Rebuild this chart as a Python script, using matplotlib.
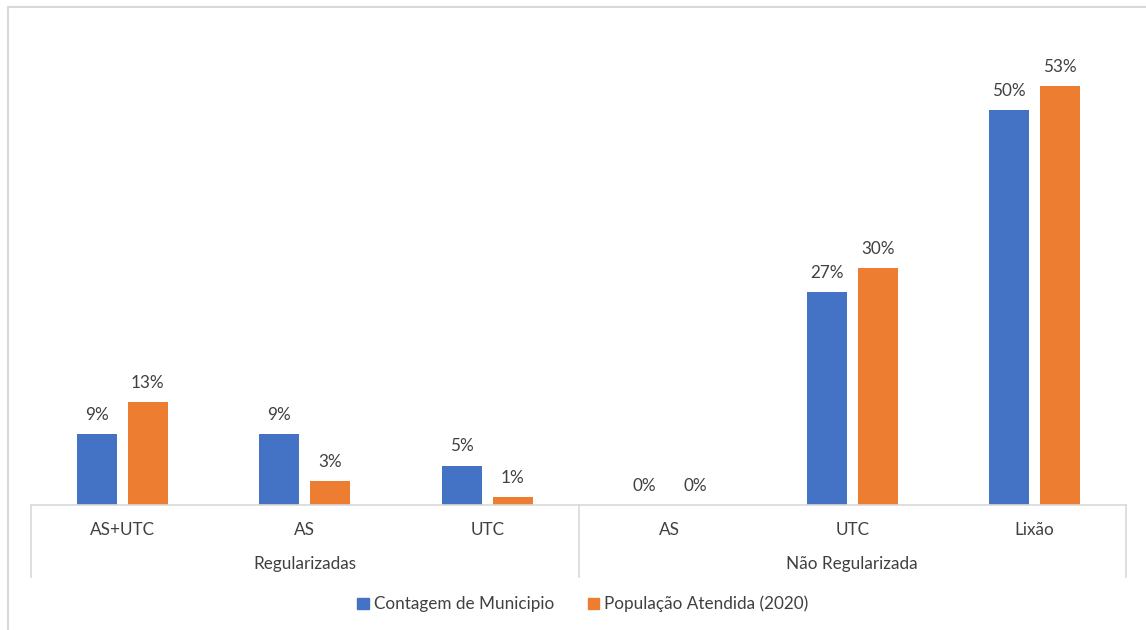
import matplotlib
matplotlib.use("Agg")
import matplotlib.pyplot as plt
import matplotlib.transforms as mtransforms
from matplotlib.patches import Rectangle
import numpy as np

plt.rcParams['font.family'] = ['Lato', 'DejaVu Sans']

categories = ["AS+UTC", "AS", "UTC", "AS", "UTC", "Lixão"]
groups = ["Regularizadas", "Não Regularizada"]
group_sizes = [3, 3]
contagem = [9, 9, 5, 0, 27, 50]
populacao = [13, 3, 1, 0, 30, 53]
series_names = ["Contagem de Municipio", "População Atendida (2020)"]

BLUE = "#4472C4"
ORANGE = "#ED7D31"
TEXT = "#404040"
GRID = "#D9D9D9"
FS = 12.3

W, H = 1146, 630
fig = plt.figure(figsize=(W / 100, H / 100), dpi=100)

# chart frame (runs past the right and bottom edges)
fig.patches.append(Rectangle((8 / W, -0.2), 1.2, 1.2 - 7 / H, transform=fig.transFigure,
                             fill=False, edgecolor=GRID, linewidth=1.5))

ax = fig.add_axes([31 / W, (H - 505) / H, (1126 - 31) / W, (505 - 31) / H])
x = np.arange(len(categories))
width = 0.22
off = 0.14
b1 = ax.bar(x - off, contagem, width, color=BLUE, label=series_names[0])
b2 = ax.bar(x + off, populacao, width, color=ORANGE, label=series_names[1])

for bars, vals in ((b1, contagem), (b2, populacao)):
    for rect, v in zip(bars, vals):
        ax.annotate(f"{v}%", (rect.get_x() + rect.get_width() / 2, v),
                    xytext=(0, 8), textcoords="offset points",
                    ha="center", va="bottom", fontsize=FS, color=TEXT)

ax.set_xlim(-0.5, len(categories) - 0.5)
ax.set_ylim(0, 60)
ax.set_yticks([])
ax.set_xticks([])
for s in ax.spines.values():
    s.set_visible(False)
ax.axhline(0, color=GRID, linewidth=1.2, clip_on=False)

trans = mtransforms.blended_transform_factory(ax.transData, ax.transAxes)
axh = (505 - 31)
depth = 72 / axh
lvl1 = 25 / axh
lvl2 = 59 / axh

for xi, lab in zip(x, categories):
    ax.text(xi, -lvl1, lab, transform=trans, ha="center", va="center",
            fontsize=FS, color=TEXT)

start = 0
bounds = [-0.5]
for g, n in zip(groups, group_sizes):
    center = start + (n - 1) / 2
    ax.text(center, -lvl2, g, transform=trans, ha="center", va="center",
            fontsize=FS, color=TEXT)
    start += n
    bounds.append(start - 0.5)
for bx in bounds:
    ax.plot([bx, bx], [0, -depth], transform=trans, color=GRID,
            linewidth=1.2, clip_on=False)

handles = [Rectangle((0, 0), 1, 1, color=BLUE), Rectangle((0, 0), 1, 1, color=ORANGE)]
leg = fig.legend(handles, series_names, loc="center", bbox_to_anchor=(583 / W, 1 - 604 / H),
                 ncol=2, frameon=False, fontsize=FS, handlelength=0.65, handleheight=0.65,
                 handletextpad=0.3, columnspacing=2.0)
for t in leg.get_texts():
    t.set_color(TEXT)

fig.savefig("out.png", dpi=100, facecolor="white")
